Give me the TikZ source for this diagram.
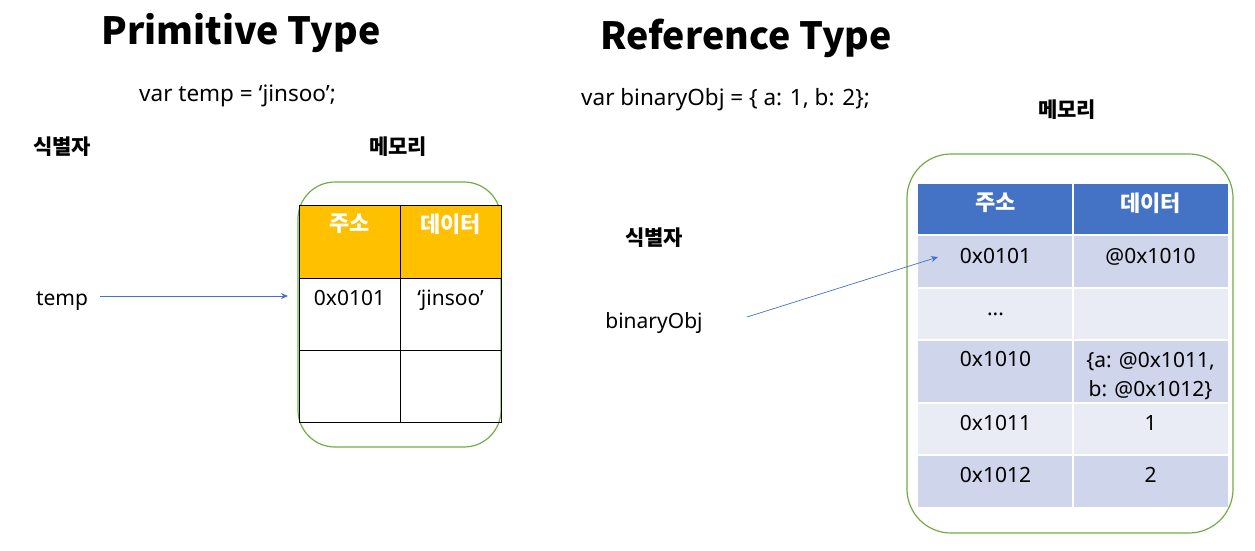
\documentclass[tikz,border=0pt]{standalone}
\usepackage{fontspec}
\setmainfont{Noto Sans}
\newfontfamily\kr{Noto Sans CJK KR}
\usetikzlibrary{arrows.meta,positioning}
\definecolor{memgreen}{RGB}{112,173,71}
\definecolor{hdrorange}{RGB}{255,192,0}
\definecolor{hdrblue}{RGB}{68,114,196}
\definecolor{rowdark}{RGB}{207,213,234}
\definecolor{rowlight}{RGB}{233,235,245}
\tikzset{
  every picture/.style={font=\fontsize{21}{29}\selectfont},
  title/.style={font=\fontsize{37.5}{42}\selectfont\kr\bfseries,anchor=base},
  code/.style={anchor=base,inner sep=0pt},
  decl/.style={code,anchor=base west,font=\fontsize{22.5}{29}\selectfont},
  krlabel/.style={font=\fontsize{21}{24}\selectfont\kr\bfseries},
  hdr/.style={font=\fontsize{22}{24}\selectfont\kr\bfseries,text=white},
  membox/.style={draw=memgreen,line width=1.2pt},
  ptr/.style={draw=hdrblue,line width=0.7pt,-{Stealth[length=7pt,width=6pt]}},
  gap/.style={white,line width=2.5pt},
}
\begin{document}
\begin{tikzpicture}[x=1pt,y=-1pt]
  \useasboundingbox (0,0) rectangle (1255,550);
  % headings
  \node[title] (ptitle) at (241,44) {Primitive Type};
  \node[title] (rtitle) at (746,49) {Reference Type};
  \node[decl] (pcode) at (139,101) {var temp = ‘jinsoo’;};
  \node[decl] (rcode) at (581,105) {var binaryObj = \{ a: 1, b: 2\};};

  % primitive side
  \node[krlabel] (pid) at (62,147) {식별자};
  \node[krlabel] (pmem) at (398,147) {메모리};
  \draw[membox,rounded corners=37pt] (298,182) rectangle (501,447);
  \fill[hdrorange] (299,205) rectangle (501,278);
  \draw[line width=1pt] (299,205) rectangle (501,422)
    (299,278) -- (501,278) (299,350) -- (501,350) (400,205) -- (400,422);
  \node[hdr] (paddrh) at (349.5,224) {주소};
  \node[hdr] (pdatah) at (450.5,224) {데이터};
  \node[code] (paddr) at (349.5,305) {0x0101};
  \node[code] (pdata) at (450.5,305) {‘jinsoo’};
  \node[code] (pvar) at (62,305) {temp};
  \coordinate (pfrom) at (100,296);
  \coordinate (pto) at (288,296);
  \draw[ptr] (pfrom) -- (pto);

  % reference side
  \node[krlabel] (rmem) at (1067,110) {메모리};
  \node[krlabel] (rid) at (654,238) {식별자};
  \node[code] (rvar) at (654,328) {binaryObj};
  \draw[membox,rounded corners=44pt] (907,154) rectangle (1233,533);
  \fill[hdrblue] (918,184) rectangle (1228,235);
  \foreach \top/\bot/\col in {235/288/rowdark,288/340/rowlight,340/403/rowdark,403/455/rowlight,455/507/rowdark}
    \fill[\col] (918,\top) rectangle (1228,\bot);
  \foreach \y in {235,288,340,403,455}
    \draw[gap] (918,\y) -- (1228,\y);
  \draw[gap] (1073,184) -- (1073,507);
  \node[hdr] (raddrh) at (995.5,203) {주소};
  \node[hdr] (rdatah) at (1150.5,203) {데이터};
  \node[code] (ra1) at (995.5,263) {0x0101};
  \node[code] (rd1) at (1150.5,263) {@0x1010};
  \node[code] (ra2) at (995.5,315) {...};
  \node[code] (ra3) at (995.5,366) {0x1010};
  \node[code,align=center] (rd3) at (1150.5,396) {\{a: @0x1011,\\b: @0x1012\}};
  \node[code] (ra4) at (995.5,430) {0x1011};
  \node[code] (rd4) at (1150.5,430) {1};
  \node[code] (ra5) at (995.5,482) {0x1012};
  \node[code] (rd5) at (1150.5,482) {2};
  \coordinate (rfrom) at (747,317);
  \coordinate (rto) at (938,257);
  \draw[ptr] (rfrom) -- (rto);
\end{tikzpicture}
\end{document}
